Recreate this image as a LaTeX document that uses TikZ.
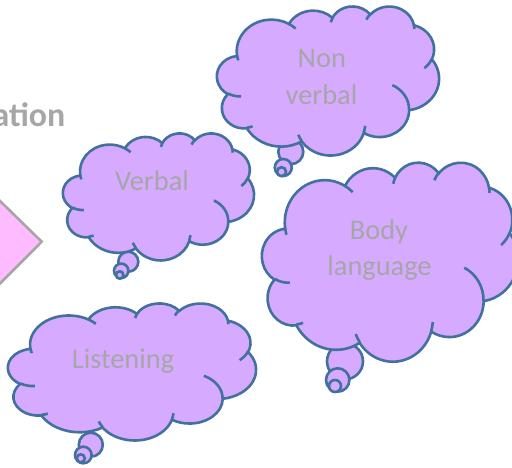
\documentclass[tikz,border=0pt]{standalone}
\usepackage{fontspec}
\setmainfont{Carlito}
\definecolor{cfill}{RGB}{214,170,255}
\definecolor{cline}{RGB}{65,113,156}
\definecolor{tgray}{RGB}{166,166,166}
\definecolor{pinkf}{RGB}{255,187,255}
\tikzset{
  declare function={pa(\p,\q)=atan2(\q*sin(\p),cos(\p));},
  cloudsty/.style={fill=cfill, draw=cline, line width=2.6bp},
  cloudline/.style={draw=cline, line width=2.6bp},
  lbl/.style={text=tgray, font=\fontsize{28.5}{34}\selectfont, inner sep=0pt, anchor=base},
  titlesty/.style={text=tgray, font=\bfseries\fontsize{34}{40}\selectfont, inner sep=0pt, anchor=base east},
  chev/.style={fill=pinkf, draw=tgray, line width=2.6bp, line join=miter},
}
\newcommand\CA[4]{arc[x radius=#1, y radius=#2, start angle={pa(#3,#1/#2)}, delta angle={mod(pa(#3+#4,#1/#2)-pa(#3,#1/#2)+720,360)}]}
\newcommand\pcloud[4]{% L, T, W, H
  \begin{scope}[shift={(#1,#2)}, xscale=#3/432, yscale=#4/432]
    \path[cloudsty] (39.00,143.70)
      \CA{67.53}{91.90}{-190.4875}{123.7805}
      \CA{53.33}{72.67}{-144.1024}{89.9452}
      \CA{43.65}{59.45}{-145.8079}{99.7230}
      \CA{48.57}{65.95}{-130.9861}{117.2417}
      \CA{53.33}{72.73}{-78.7089}{109.0269}
      \CA{67.75}{92.20}{-46.2673}{130.2690}
      \CA{57.85}{78.67}{0.6250}{114.0333}
      \CA{67.52}{92.15}{22.4516}{115.1726}
      \CA{77.20}{105.43}{66.2426}{75.7110}
      \CA{43.60}{59.18}{-274.9421}{146.7356}
      \CA{43.45}{59.45}{-246.8285}{152.5189}
      -- cycle;
    \path[cloudline]
      (46.93,261.77) \CA{43.45}{59.45}{86.7420}{26.4295}
      (69.28,348.99) \CA{43.60}{59.18}{73.6105}{11.4475}
      (164.78,390.90) \CA{67.52}{92.15}{137.6241}{14.0811}
      (288.27,347.51) \CA{67.52}{92.15}{6.4533}{15.9984}
      (341.29,229.54) \CA{57.85}{78.67}{-70.2924}{70.9174}
      (417.98,153.54) \CA{53.33}{72.73}{30.3180}{27.7515}
      (383.24,54.26) \CA{48.57}{65.95}{-13.7443}{14.8589}
      (290.78,39.52) \CA{48.57}{65.95}{-149.1815}{18.1954}
      (221.41,47.20) \CA{43.65}{59.45}{-163.4943}{17.6864}
      (140.00,51.92) \CA{67.53}{91.90}{-66.7070}{12.3194}
      (41.27,157.89) \CA{67.53}{91.90}{157.6544}{11.8582};
  \end{scope}}
\newcommand\bubbles[9]{%
  \path[cloudsty] (#1,#2) circle[radius=#3];
  \path[cloudsty] (#4,#5) circle[radius=#6];
  \path[cloudsty] (#7,#8) circle[radius=#9];}
\begin{document}
\begin{tikzpicture}[x=1bp,y=-1bp]
  \useasboundingbox (0,0) rectangle (512,468);
  \clip (0,0) rectangle (512,468);
  % chevron arrow at left
  \path[chev] (-30,171.7) -- (41.7,241.7) -- (-30,313.7) -- cycle;
  \node[titlesty] (ttitle) at (65.5,126.7) {ation};
  % Non verbal
  \bubbles{290.8}{151.7}{12.5}{283.3}{167.5}{8.5}{281.5}{171.7}{4.5}
  \pcloud{217}{6}{222}{149}
  \node[lbl] (tnon) at (321.8,67.5) {Non};
  \node[lbl] (tverbalb) at (321.5,104.5) {verbal};
  % Verbal
  \bubbles{128.3}{261.7}{10}{121.2}{270.8}{7.2}{119.7}{275}{3.7}
  \pcloud{63}{133}{191}{127}
  \node[lbl] (tverbal) at (152,191) {Verbal};
  % Body language
  \bubbles{345}{361.3}{18}{337.7}{380}{11.7}{335}{386}{6}
  \pcloud{262}{162}{256}{199}
  \node[lbl] (tbody) at (379,239.5) {Body};
  \node[lbl] (tlang) at (379.5,275) {language};
  % Listening
  \bubbles{90.8}{444.7}{12}{83.3}{455}{8.3}{80.8}{458.3}{4}
  \pcloud{8}{303}{248}{137}
  \node[lbl] (tlisten) at (123,368.3) {Listening};
\end{tikzpicture}
\end{document}
